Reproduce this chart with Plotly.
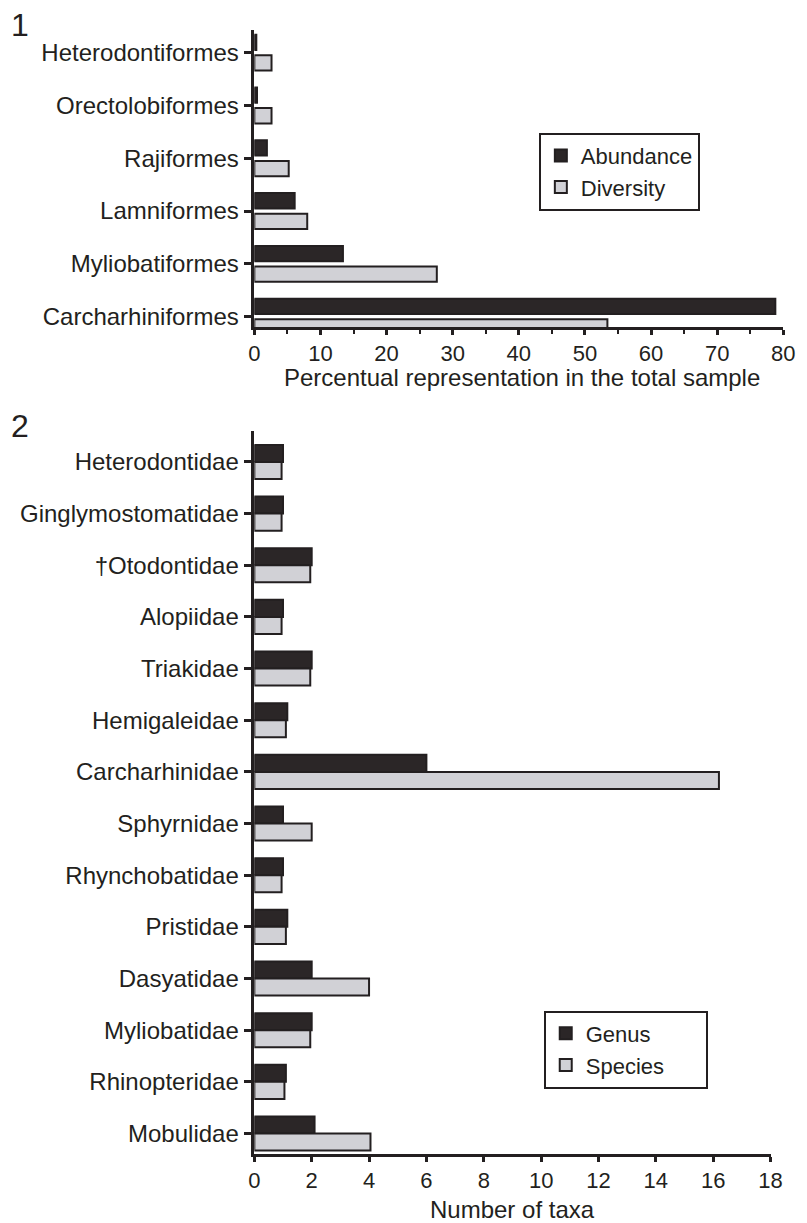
import plotly.graph_objects as go

# ---------------- data ----------------
orders = ["Heterodontiformes", "Orectolobiformes", "Rajiformes",
          "Lamniformes", "Myliobatiformes", "Carcharhiniformes"]
abundance = [0.3, 0.4, 1.9, 6.1, 13.4, 78.8]
diversity = [2.6, 2.6, 5.2, 8.0, 27.6, 53.4]

families = ["Heterodontidae", "Ginglymostomatidae", "†Otodontidae", "Alopiidae",
            "Triakidae", "Hemigaleidae", "Carcharhinidae", "Sphyrnidae",
            "Rhynchobatidae", "Pristidae", "Dasyatidae", "Myliobatidae",
            "Rhinopteridae", "Mobulidae"]
genus = [1.0, 1.0, 2.0, 1.0, 2.0, 1.15, 6.0, 1.0, 1.0, 1.15, 2.0, 2.0, 1.1, 2.1]
species = [0.95, 0.95, 1.95, 0.95, 1.95, 1.1, 16.2, 2.0, 0.95, 1.1, 4.0, 1.95, 1.05, 4.05]

top_ticks = [0, 10, 20, 30, 40, 50, 60, 70, 80]
bottom_ticks = [0, 2, 4, 6, 8, 10, 12, 14, 16, 18]

# ---------------- style ----------------
W, H = 807, 1223
INK = "#231f20"
DARK = "#2b2627"
LIGHT = "#d1d1d6"
FONT = "Liberation Sans, Arial, sans-serif"
FS = 24
TFS = 22
NB = "\u00a0"

def px_x(p):
    return p / W

def px_y(p):
    return 1 - p / H

fig = go.Figure()

bar_line = dict(color=INK, width=2)

fig.add_trace(go.Bar(y=orders, x=abundance, orientation="h", name="Abundance",
                     marker=dict(color=DARK, line=bar_line),
                     width=0.29, offset=-0.34, xaxis="x", yaxis="y", legend="legend"))
fig.add_trace(go.Bar(y=orders, x=diversity, orientation="h", name="Diversity",
                     marker=dict(color=LIGHT, line=bar_line),
                     width=0.29, offset=0.05, xaxis="x", yaxis="y", legend="legend"))

fig.add_trace(go.Bar(y=families, x=genus, orientation="h", name="Genus",
                     marker=dict(color=DARK, line=bar_line),
                     width=0.33, offset=-0.33, xaxis="x2", yaxis="y2", legend="legend2"))
fig.add_trace(go.Bar(y=families, x=species, orientation="h", name="Species" + NB * 6,
                     marker=dict(color=LIGHT, line=bar_line),
                     width=0.33, offset=0.0, xaxis="x2", yaxis="y2", legend="legend2"))

axis_common = dict(showgrid=False, zeroline=False, showline=True, linecolor=INK,
                   linewidth=2.5, ticks="outside", tickcolor=INK, tickwidth=2.5)

n1 = len(orders)
n2 = len(families)

legend_common = dict(xanchor="left", yanchor="top", bgcolor="white",
                     bordercolor=INK, borderwidth=2,
                     font=dict(family=FONT, size=22, color=INK),
                     tracegroupgap=0, traceorder="normal")

fig.update_layout(
    width=W, height=H,
    margin=dict(l=0, r=0, t=0, b=0),
    paper_bgcolor="white", plot_bgcolor="white",
    barmode="overlay",
    font=dict(family=FONT, size=FS, color=INK),
    xaxis=dict(domain=[px_x(254), px_x(795)], anchor="y", range=[0, 80],
               tickvals=top_ticks, ticklen=5,
               tickfont=dict(family=FONT, size=TFS, color=INK),
               minor=dict(dtick=5, tick0=0, ticks="outside", ticklen=4,
                          tickwidth=2, tickcolor=INK),
               **axis_common),
    yaxis=dict(domain=[px_y(328), px_y(30)], anchor="x", type="category",
               categoryorder="array", categoryarray=orders,
               tickfont=dict(family=FONT, size=FS, color=INK),
               range=[n1 - 1 + 0.2, -0.43], ticklen=8, **axis_common),
    xaxis2=dict(domain=[px_x(254), px_x(782)], anchor="y2", range=[0, 18],
                tickvals=bottom_ticks, ticklen=5,
                tickfont=dict(family=FONT, size=TFS, color=INK),
                **axis_common),
    yaxis2=dict(domain=[px_y(1157), px_y(432)], anchor="x2", type="category",
                categoryorder="array", categoryarray=families,
                tickfont=dict(family=FONT, size=FS, color=INK),
                range=[n2 - 1 + 0.4, -0.6], ticklen=8, **axis_common),
    legend=dict(x=px_x(545), y=px_y(133), **legend_common),
    legend2=dict(x=px_x(550), y=px_y(1013), **legend_common),
    annotations=[
        dict(text="1", x=px_x(3), y=px_y(5), xref="paper", yref="paper",
             xanchor="left", yanchor="top", showarrow=False,
             font=dict(family=FONT, size=32, color=INK)),
        dict(text="2", x=px_x(3), y=px_y(407), xref="paper", yref="paper",
             xanchor="left", yanchor="top", showarrow=False,
             font=dict(family=FONT, size=32, color=INK)),
        dict(text="Percentual representation in the total sample",
             x=px_x(528), y=px_y(378), xref="paper", yref="paper",
             xanchor="center", yanchor="middle", showarrow=False,
             font=dict(family=FONT, size=FS, color=INK)),
        dict(text="Number of taxa",
             x=px_x(518), y=px_y(1212), xref="paper", yref="paper",
             xanchor="center", yanchor="middle", showarrow=False,
             font=dict(family=FONT, size=FS, color=INK)),
    ],
)

fig.write_html("out.html", config={"displayModeBar": False},
               post_script="document.body.style.margin='0';")
